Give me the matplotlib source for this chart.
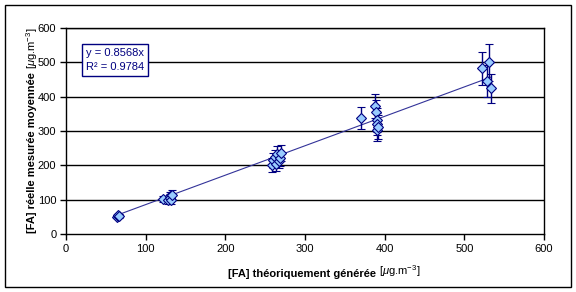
import matplotlib
matplotlib.use("Agg")
import matplotlib.pyplot as plt
from matplotlib.patches import Rectangle

plt.rcParams['font.family'] = ['Liberation Sans', 'DejaVu Sans']
plt.rcParams['mathtext.fontset'] = 'custom'
plt.rcParams['mathtext.rm'] = 'Liberation Sans'
plt.rcParams['mathtext.it'] = 'Liberation Sans:italic'

# data
x_theo = [64, 65, 65, 66,
          122, 128, 130, 131, 132, 133,
          258, 260, 262, 263, 265, 267, 268, 270,
          370, 388, 389, 390, 390, 391, 392,
          522, 531, 528, 534]
y_mes = [50, 53, 55, 52,
         102, 100, 112, 105, 98, 115,
         200, 215, 225, 205, 232, 212, 220, 236,
         338, 373, 355, 332, 320, 303, 312,
         483, 500, 446, 425]
y_err = [4, 5, 4, 5,
         10, 12, 10, 12, 10, 12,
         20, 22, 20, 22, 24, 20, 22, 22,
         33, 36, 35, 34, 33, 32, 35,
         48, 53, 47, 42]
slope = 0.8568
r2 = 0.9784

fig = plt.figure(figsize=(5.76, 2.92), dpi=100)
ax = fig.add_axes([0.1146, 0.1986, 0.8298, 0.7055])

for v in [100, 200, 300, 400, 500, 600]:
    ax.axhline(v, color='black', lw=1, zorder=1)

fx = [min(x_theo), max(x_theo)]
ax.plot(fx, [slope * v for v in fx], color='#333399', lw=0.8, zorder=2)

ax.errorbar(x_theo, y_mes, yerr=y_err, fmt='D', ms=5, mfc='#99CCFF', mec='#000080',
            mew=0.8, ecolor='#000080', elinewidth=1, capsize=3, capthick=1, zorder=3)

ax.set_xlim(0, 600)
ax.set_ylim(0, 600)
ax.set_xticks(range(0, 700, 100))
ax.set_yticks(range(0, 700, 100))
ax.tick_params(labelsize=8, length=4, width=1, direction='out', pad=3)
for s in ax.spines.values():
    s.set_linewidth(1)

ax.text(0.042, 0.905, f"y = {slope}x\nR² = {r2}",
        transform=ax.transAxes, fontsize=8, color='#000080', va='top', ha='left',
        linespacing=1.6,
        bbox=dict(boxstyle='square,pad=0.35', fc='white', ec='#000080', lw=1))

# axis labels: bold part + normal unit part
t1 = fig.text(0.396, 0.052, "[FA] théoriquement générée", fontsize=8, fontweight='bold',
              ha='left', va='baseline')
ax.annotate(r" [$\mu$g.m$^{-3}$]", xy=(1, 0), xycoords=t1, fontsize=8,
            ha='left', va='bottom', annotation_clip=False)

t2 = fig.text(0.055, 0.202, "[FA] réelle mesurée moyennée", fontsize=8, fontweight='bold',
              rotation=90, ha='center', va='bottom')
ax.annotate(r" [$\mu$g.m$^{-3}$]", xy=(0.5, 1), xycoords=t2, fontsize=8, rotation=90,
            ha='center', va='bottom', annotation_clip=False)

fig.patches.append(Rectangle((5 / 576, 5 / 292), 566 / 576, 282 / 292, transform=fig.transFigure,
                             fill=False, ec='black', lw=1))

fig.savefig("out.png", dpi=100)
